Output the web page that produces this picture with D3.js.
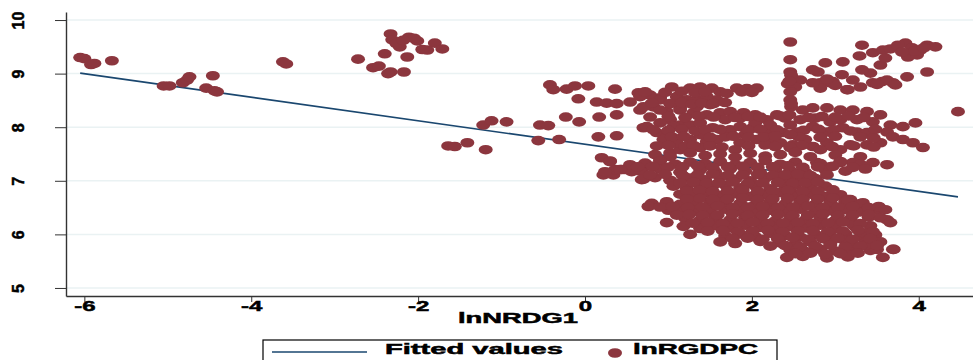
<!DOCTYPE html>
<html>
<head>
<meta charset="utf-8">
<script src="https://cdn.jsdelivr.net/npm/d3@7"></script>
<style>
  body { margin: 0; background: #fff; }
  svg { display: block; font-family: "Liberation Sans", Arial, sans-serif; }
  svg text { font-weight: bold; fill: #000; stroke: #000; stroke-width: 0.5px; }
  .axis line, .axis path { stroke: #333; }
</style>
</head>
<body>
<svg id="chart" width="973" height="360"></svg>
<script>
// lnNRDG1 (x) vs lnRGDPC (y), grouped by cluster
var westPts = [
  [-6.05, 9.30], [-6.00, 9.28], [-5.92, 9.17], [-5.88, 9.19], [-5.67, 9.24],
  [-5.05, 8.77], [-4.98, 8.77], [-4.82, 8.83], [-4.77, 8.88], [-4.74, 8.94],
  [-4.46, 8.96], [-4.54, 8.73], [-4.44, 8.68], [-4.41, 8.66], [-3.62, 9.22], [-3.58, 9.18]
];
var northWestPts = [
  [-2.33, 9.74], [-2.31, 9.63], [-2.11, 9.68], [-2.01, 9.61], [-1.80, 9.57], [-1.71, 9.46],
  [-1.89, 9.44], [-2.22, 9.50], [-2.40, 9.37], [-2.13, 9.31], [-2.72, 9.27], [-2.54, 9.11],
  [-2.47, 9.14], [-2.33, 9.03], [-2.17, 9.03], [-2.26, 9.56], [-1.95, 9.45], [-2.05, 9.66],
  [-2.36, 9.00], [-2.18, 9.62]
];
var middlePts = [
  [-1.64, 7.65], [-1.56, 7.64], [-1.41, 7.71], [-1.19, 7.58], [-1.22, 8.04], [-1.12, 8.12],
  [-0.94, 8.10], [-0.56, 7.75], [-0.54, 8.04], [-0.44, 8.03], [-0.31, 7.77], [-0.42, 8.79],
  [-0.38, 8.70], [-0.22, 8.71], [-0.12, 8.77], [0.04, 8.77], [-0.08, 8.53], [-0.23, 8.19],
  [-0.07, 8.10], [0.16, 7.82], [0.17, 8.19], [0.14, 8.47], [0.26, 8.45], [0.36, 8.71],
  [0.38, 8.44], [0.38, 8.23], [0.38, 7.84], [0.54, 8.47], [0.64, 8.64], [0.66, 8.32],
  [0.70, 7.99], [0.20, 7.43], [0.30, 7.37], [0.22, 7.11], [0.34, 7.11], [0.44, 7.21],
  [0.56, 7.17], [0.68, 7.19], [0.68, 7.02], [0.36, 7.21], [0.48, 7.21], [0.82, 8.38],
  [0.98, 8.29], [0.86, 7.90], [1.02, 8.14], [0.98, 7.82], [1.14, 8.04], [0.90, 7.39],
  [1.02, 7.52], [1.14, 7.58], [0.82, 7.26], [0.94, 7.21], [0.90, 8.55], [1.14, 8.36]
];
var upperBandPts = [
  [1.04, 8.75], [1.26, 8.73], [1.38, 8.75], [1.52, 8.73], [1.62, 8.66], [1.58, 8.51],
  [1.82, 8.73], [1.94, 8.72], [2.06, 8.73], [0.78, 8.60], [0.66, 8.57], [0.90, 8.51],
  [1.10, 8.57], [1.22, 8.51], [1.34, 8.51], [1.46, 8.57], [0.70, 8.38], [0.90, 8.32],
  [1.14, 8.32], [1.30, 8.27], [1.46, 8.23], [1.62, 8.27], [1.74, 8.29], [1.90, 8.27],
  [2.04, 8.23], [2.18, 8.14], [2.30, 8.23], [2.61, 8.32], [2.73, 8.36], [2.90, 8.36],
  [3.06, 8.32], [3.21, 8.32], [3.38, 8.29], [3.54, 8.23], [3.06, 8.14], [3.26, 8.14],
  [3.45, 8.10], [3.66, 8.04], [3.81, 8.01], [3.96, 8.08], [0.74, 8.01], [0.90, 8.08],
  [1.06, 8.01], [1.26, 8.04], [1.38, 8.08], [1.53, 7.99], [1.74, 7.95], [1.86, 8.01],
  [2.01, 7.99], [2.18, 7.91], [2.37, 7.90], [2.54, 7.91], [2.73, 8.01], [2.90, 7.91],
  [3.09, 7.99], [3.26, 7.91], [3.38, 7.90], [3.62, 7.91], [3.69, 7.82], [3.81, 7.77],
  [3.93, 7.71], [4.05, 7.62], [0.94, 7.77], [1.10, 7.71], [1.26, 7.77], [1.46, 7.73],
  [1.58, 7.77], [1.86, 7.71], [2.06, 7.77], [2.22, 7.77], [2.34, 7.71], [2.49, 7.67],
  [2.73, 7.64], [2.90, 7.71], [3.06, 7.58], [3.38, 7.67], [3.54, 7.71], [3.30, 7.45],
  [3.45, 7.34], [3.62, 7.30], [3.21, 7.34], [2.94, 7.26], [2.78, 7.34], [3.06, 7.34],
  [1.34, 8.38], [1.50, 8.42], [1.68, 8.14], [1.86, 8.17], [2.04, 8.08], [2.22, 8.04],
  [2.40, 8.17], [2.58, 8.14], [2.76, 8.17], [2.94, 8.10], [1.38, 7.86], [1.68, 7.82],
  [1.92, 7.86], [2.16, 7.67], [2.64, 7.77], [2.82, 7.58], [3.18, 7.67], [1.38, 7.62],
  [1.80, 7.58],
  [0.72, 8.66], [0.96, 8.65], [1.16, 8.67], [1.32, 8.64], [1.44, 8.66], [1.70, 8.63], [1.88, 8.66], [2.00, 8.65],
  [0.80, 8.45], [1.02, 8.44], [1.16, 8.46], [1.28, 8.43], [1.40, 8.45], [1.54, 8.44], [1.68, 8.46],
  [0.78, 8.19], [1.00, 8.20], [1.20, 8.18], [1.36, 8.21], [1.54, 8.19], [1.80, 8.18], [1.96, 8.20],
  [2.10, 8.19], [2.34, 8.21], [2.68, 8.18], [2.84, 8.20], [3.00, 8.19], [3.16, 8.21], [3.34, 8.18],
  [0.82, 7.95], [1.00, 7.94], [1.16, 7.96], [1.32, 7.93], [1.44, 7.95], [1.62, 7.96], [1.96, 7.94],
  [2.10, 7.96], [2.30, 7.95], [2.62, 7.94], [2.80, 7.96], [2.98, 7.95], [3.18, 7.93], [3.48, 7.96],
  [1.04, 7.82], [1.18, 7.83], [1.50, 7.81], [1.78, 7.83], [1.96, 7.81], [2.14, 7.82], [2.28, 7.84],
  [2.56, 7.82], [2.82, 7.81], [3.00, 7.83], [3.30, 7.82], [3.46, 7.80],
  [0.86, 7.65], [1.00, 7.66], [1.20, 7.64], [1.30, 7.66], [1.50, 7.65], [1.64, 7.63], [1.96, 7.65],
  [2.28, 7.64], [2.60, 7.66], [2.96, 7.64], [3.22, 7.65], [3.46, 7.63]
];
var northEastPts = [
  [3.32, 9.53], [3.29, 9.33], [3.45, 9.39], [3.57, 9.44], [3.66, 9.46], [3.84, 9.57],
  [3.92, 9.48], [4.10, 9.53], [4.20, 9.50], [3.87, 9.31], [3.98, 9.35], [3.54, 9.16],
  [3.09, 9.22], [2.88, 9.20], [4.10, 9.03], [3.86, 8.94], [3.08, 8.98], [3.42, 9.01],
  [3.21, 8.88], [3.30, 8.75], [3.14, 8.70], [2.94, 8.83], [2.82, 8.83], [3.56, 8.85],
  [3.69, 8.83], [3.62, 8.88], [2.79, 9.03], [2.82, 8.73], [2.73, 8.83], [2.97, 8.85],
  [3.15, 8.70], [3.45, 8.83], [3.72, 8.79], [4.47, 8.29], [3.75, 9.53], [4.02, 9.44],
  [3.60, 9.29], [3.32, 9.07], [2.58, 8.88], [2.73, 9.07],
  [3.95, 9.42], [4.06, 9.48], [3.80, 9.40], [3.50, 8.80], [3.00, 8.78], [2.90, 8.90],
  [2.46, 9.59], [2.46, 9.26], [2.46, 9.03], [2.48, 8.92], [2.43, 8.81], [2.52, 8.75],
  [2.46, 8.66], [2.46, 8.51], [2.47, 8.38], [2.45, 8.23], [2.46, 8.04], [2.46, 7.86],
  [2.46, 7.62], [2.47, 6.95], [2.46, 6.80], [2.47, 8.97], [2.45, 8.86], [2.47, 8.44]
];
var lowerBlobPts = [
  [0.84, 7.49], [1.02, 7.45], [1.26, 7.52], [1.44, 7.47], [1.62, 7.50], [1.80, 7.44],
  [1.98, 7.51], [2.16, 7.46], [2.34, 7.49], [2.52, 7.53], [2.70, 7.45], [3.00, 7.48],
  [0.30, 7.36], [0.54, 7.30], [0.72, 7.33], [0.90, 7.37], [1.08, 7.31], [1.26, 7.35],
  [1.44, 7.32], [1.62, 7.36], [1.80, 7.30], [1.98, 7.34], [2.16, 7.38], [2.34, 7.31],
  [2.52, 7.35], [2.82, 7.32], [3.06, 7.36], [3.30, 7.31],
  [0.24, 7.17], [0.42, 7.21], [0.66, 7.18], [0.90, 7.22], [1.14, 7.16], [1.38, 7.20],
  [1.56, 7.17], [1.74, 7.22], [1.92, 7.18], [2.10, 7.15], [2.28, 7.21], [2.46, 7.19],
  [2.64, 7.16], [2.88, 7.20], [3.12, 7.18], [3.36, 7.22],
  [0.70, 7.03], [0.84, 7.06], [1.02, 7.01], [1.26, 7.05], [1.44, 7.02], [1.62, 7.07],
  [1.80, 7.03], [1.98, 7.00], [2.16, 7.05], [2.34, 7.02], [2.46, 7.06], [2.58, 7.01], [2.76, 7.04],
  [1.06, 6.90], [1.22, 6.86], [1.38, 6.91], [1.52, 6.88], [1.68, 6.92], [1.86, 6.87],
  [2.04, 6.90], [2.22, 6.85], [2.40, 6.89], [2.52, 6.92], [2.70, 6.87], [2.88, 6.90],
  [1.14, 6.75], [1.30, 6.72], [1.44, 6.77], [1.62, 6.73], [1.80, 6.76], [1.98, 6.71],
  [2.16, 6.74], [2.34, 6.78], [2.52, 6.72], [2.70, 6.75], [2.88, 6.71], [3.06, 6.74],
  [0.80, 6.58], [0.98, 6.61], [1.14, 6.56], [1.32, 6.60], [1.50, 6.57], [1.68, 6.62],
  [1.86, 6.58], [2.04, 6.55], [2.22, 6.60], [2.40, 6.57], [2.58, 6.61], [2.76, 6.56],
  [2.94, 6.59], [3.12, 6.62], [3.30, 6.57],
  [1.00, 6.45], [1.14, 6.41], [1.32, 6.46], [1.50, 6.42], [1.68, 6.47], [1.86, 6.43],
  [2.04, 6.40], [2.22, 6.45], [2.40, 6.42], [2.58, 6.47], [2.76, 6.41], [2.94, 6.44],
  [3.12, 6.46], [3.30, 6.42], [3.50, 6.45],
  [1.20, 6.30], [1.38, 6.26], [1.56, 6.31], [1.74, 6.27], [1.92, 6.32], [2.10, 6.28],
  [2.28, 6.25], [2.46, 6.30], [2.64, 6.27], [2.82, 6.31], [3.00, 6.26], [3.18, 6.29],
  [3.40, 6.32], [3.62, 6.27],
  [1.18, 6.15], [1.38, 6.11], [1.56, 6.16], [1.74, 6.12], [1.92, 6.17], [2.10, 6.13],
  [2.28, 6.10], [2.46, 6.15], [2.64, 6.12], [2.82, 6.17], [3.00, 6.11], [3.24, 6.14], [3.42, 6.16],
  [1.26, 6.00], [1.68, 5.97], [1.86, 6.01], [2.04, 5.96], [2.22, 6.02], [2.40, 5.98],
  [2.58, 5.95], [2.76, 6.00], [2.94, 5.97], [3.12, 6.01], [3.30, 5.96], [3.48, 5.99],
  [1.62, 5.86], [1.80, 5.83], [2.10, 5.87], [2.34, 5.84], [2.52, 5.82], [2.70, 5.86],
  [2.94, 5.83], [3.18, 5.87], [3.36, 5.84], [3.54, 5.86],
  [2.46, 5.71], [2.64, 5.68], [2.82, 5.72], [3.00, 5.69], [3.18, 5.73], [3.42, 5.70], [3.70, 5.72],
  [2.42, 5.57], [2.61, 5.59], [2.90, 5.56], [3.15, 5.58], [3.57, 5.57],
  [3.18, 6.65], [3.33, 6.59], [3.52, 6.52], [3.60, 6.46], [3.54, 6.31], [3.66, 6.22],
  [3.21, 6.18], [3.34, 6.03], [3.10, 5.90], [3.38, 5.81], [3.50, 5.72], [3.69, 5.72],
  [3.15, 5.62], [0.98, 6.22], [0.76, 6.52]
];
// staggered rows that fill the dense core between the rows above
var coreFillPts = [
  [0.63, 7.26], [0.81, 7.27], [0.99, 7.25], [1.17, 7.26], [1.35, 7.28], [1.53, 7.25], [1.71, 7.26],
  [1.89, 7.27], [2.07, 7.25], [2.25, 7.26], [2.43, 7.28], [2.61, 7.25], [2.79, 7.26], [2.97, 7.27], [3.21, 7.25],
  [0.78, 7.11], [0.96, 7.12], [1.17, 7.10], [1.35, 7.11], [1.53, 7.13], [1.71, 7.10], [1.89, 7.11],
  [2.07, 7.12], [2.25, 7.10], [2.40, 7.11], [2.55, 7.13], [2.70, 7.10], [2.90, 7.11],
  [1.14, 6.96], [1.30, 6.97], [1.46, 6.95], [1.60, 6.96], [1.77, 6.98], [1.95, 6.95], [2.13, 6.96],
  [2.31, 6.97], [2.49, 6.95], [2.64, 6.96], [2.79, 6.98],
  [1.22, 6.81], [1.37, 6.82], [1.53, 6.80], [1.71, 6.81], [1.89, 6.83], [2.07, 6.80], [2.25, 6.81],
  [2.43, 6.82], [2.61, 6.80], [2.79, 6.81], [2.97, 6.83],
  [1.22, 6.66], [1.38, 6.67], [1.53, 6.65], [1.71, 6.66], [1.89, 6.68], [2.07, 6.65], [2.25, 6.66],
  [2.43, 6.67], [2.61, 6.65], [2.79, 6.66], [2.97, 6.68], [3.15, 6.65],
  [0.90, 6.51], [1.05, 6.52], [1.23, 6.50], [1.41, 6.51], [1.59, 6.53], [1.77, 6.50], [1.95, 6.51],
  [2.13, 6.52], [2.31, 6.50], [2.49, 6.51], [2.67, 6.53], [2.85, 6.50], [3.03, 6.51], [3.21, 6.52], [3.40, 6.50],
  [1.10, 6.36], [1.25, 6.37], [1.41, 6.35], [1.59, 6.36], [1.77, 6.38], [1.95, 6.35], [2.13, 6.36],
  [2.31, 6.37], [2.49, 6.35], [2.67, 6.36], [2.85, 6.38], [3.03, 6.35], [3.21, 6.36], [3.40, 6.37],
  [1.29, 6.21], [1.47, 6.22], [1.65, 6.20], [1.83, 6.21], [2.01, 6.23], [2.19, 6.20], [2.37, 6.21],
  [2.55, 6.22], [2.73, 6.20], [2.91, 6.21], [3.09, 6.23], [3.30, 6.20],
  [1.47, 6.06], [1.65, 6.07], [1.83, 6.05], [2.01, 6.06], [2.19, 6.08], [2.37, 6.05], [2.55, 6.06],
  [2.73, 6.07], [2.91, 6.05], [3.09, 6.06], [3.27, 6.08], [3.45, 6.05],
  [1.77, 5.92], [1.95, 5.93], [2.13, 5.91], [2.31, 5.92], [2.49, 5.94], [2.67, 5.91], [2.85, 5.92],
  [3.03, 5.93], [3.21, 5.91], [3.42, 5.92],
  [2.22, 5.78], [2.40, 5.79], [2.58, 5.77], [2.76, 5.78], [2.94, 5.80], [3.12, 5.77], [3.30, 5.78], [3.50, 5.79],
  [2.52, 5.64], [2.70, 5.65], [2.88, 5.63], [3.06, 5.64], [3.27, 5.65]
];
var fittedX = [-6.05, 4.47];
var fittedY = [9.01, 6.70];
var xTicks = [-6, -4, -2, 0, 2, 4];
var yTicks = [5, 6, 7, 8, 9, 10];
var xTitle = "lnNRDG1";
var legendLabels = ["Fitted values", "lnRGDPC"];

(function () {
  var svg = d3.select("#chart"),
    plotLeft = 66, plotRight = 973, plotTop = 12, plotBottom = 296;

  var x = d3.scaleLinear().domain([-6.22, 4.65]).range([plotLeft, plotRight]),
    y = d3.scaleLinear().domain([4.85, 10.15]).range([plotBottom, plotTop]);

  var lineColor = "#1a476f", dotColor = "#8c363e";

  // grid
  svg.append("g").selectAll("line")
    .data(yTicks)
    .enter().append("line")
    .attr("x1", plotLeft).attr("x2", plotRight)
    .attr("y1", function (d) { return y(d); })
    .attr("y2", function (d) { return y(d); })
    .attr("stroke", "#eaf2f3")
    .attr("stroke-width", 1.5);

  // fitted line (drawn under the points, as in the original)
  var fitted = fittedX.map(function (d, i) { return [d, fittedY[i]]; });
  svg.append("path")
    .datum(fitted)
    .attr("fill", "none")
    .attr("stroke", lineColor)
    .attr("stroke-width", 1.6)
    .attr("d", d3.line().x(function (d) { return x(d[0]); }).y(function (d) { return y(d[1]); }));

  // points
  var allPts = westPts.concat(northWestPts, middlePts, upperBandPts, northEastPts, lowerBlobPts, coreFillPts);
  svg.append("g").selectAll("ellipse")
    .data(allPts)
    .enter().append("ellipse")
    .attr("cx", function (d) { return x(d[0]); })
    .attr("cy", function (d) { return y(d[1]); })
    .attr("rx", 7)
    .attr("ry", 4.8)
    .attr("fill", dotColor);

  // x axis
  var gx = svg.append("g")
    .attr("class", "axis")
    .attr("transform", "translate(0," + plotBottom + ")")
    .call(d3.axisBottom(x).tickValues(xTicks).tickSize(6).tickSizeOuter(0)
      .tickFormat(function (d) { return String(d); }));
  gx.select(".domain").attr("stroke-width", 1.4);
  gx.selectAll(".tick text")
    .attr("y", 15).attr("dy", 0)
    .style("font-size", "15px")
    .attr("transform", "scale(1.6,1)");

  // y axis
  var gy = svg.append("g")
    .attr("class", "axis")
    .attr("transform", "translate(" + plotLeft + ",0)")
    .call(d3.axisLeft(y).tickValues(yTicks).tickSize(11).tickSizeOuter(0)
      .tickFormat(function (d) { return String(d); }));
  gy.select(".domain").attr("stroke-width", 1.4);
  gy.selectAll(".tick text")
    .attr("x", 0).attr("y", -42).attr("dy", 0)
    .attr("text-anchor", "middle")
    .attr("transform", "rotate(-90)")
    .style("font-size", "16px");

  // x title
  svg.append("text")
    .attr("x", 518).attr("y", 323)
    .attr("text-anchor", "middle")
    .attr("textLength", 120).attr("lengthAdjust", "spacingAndGlyphs")
    .style("font-size", "15px")
    .text(xTitle);

  // legend
  var lg = svg.append("g");
  lg.append("rect")
    .attr("x", 263).attr("y", 340).attr("width", 514).attr("height", 30)
    .attr("fill", "#fff").attr("stroke", "#000").attr("stroke-width", 1.2);
  lg.append("line")
    .attr("x1", 272).attr("x2", 367).attr("y1", 352).attr("y2", 352)
    .attr("stroke", lineColor).attr("stroke-width", 1.6);
  lg.append("text")
    .attr("x", 385).attr("y", 354)
    .attr("textLength", 178).attr("lengthAdjust", "spacingAndGlyphs")
    .style("font-size", "15px")
    .text(legendLabels[0]);
  lg.append("ellipse")
    .attr("cx", 615).attr("cy", 353).attr("rx", 7).attr("ry", 4.8)
    .attr("fill", dotColor);
  lg.append("text")
    .attr("x", 633).attr("y", 354)
    .attr("textLength", 125).attr("lengthAdjust", "spacingAndGlyphs")
    .style("font-size", "15px")
    .text(legendLabels[1]);
})();
</script>
</body>
</html>
